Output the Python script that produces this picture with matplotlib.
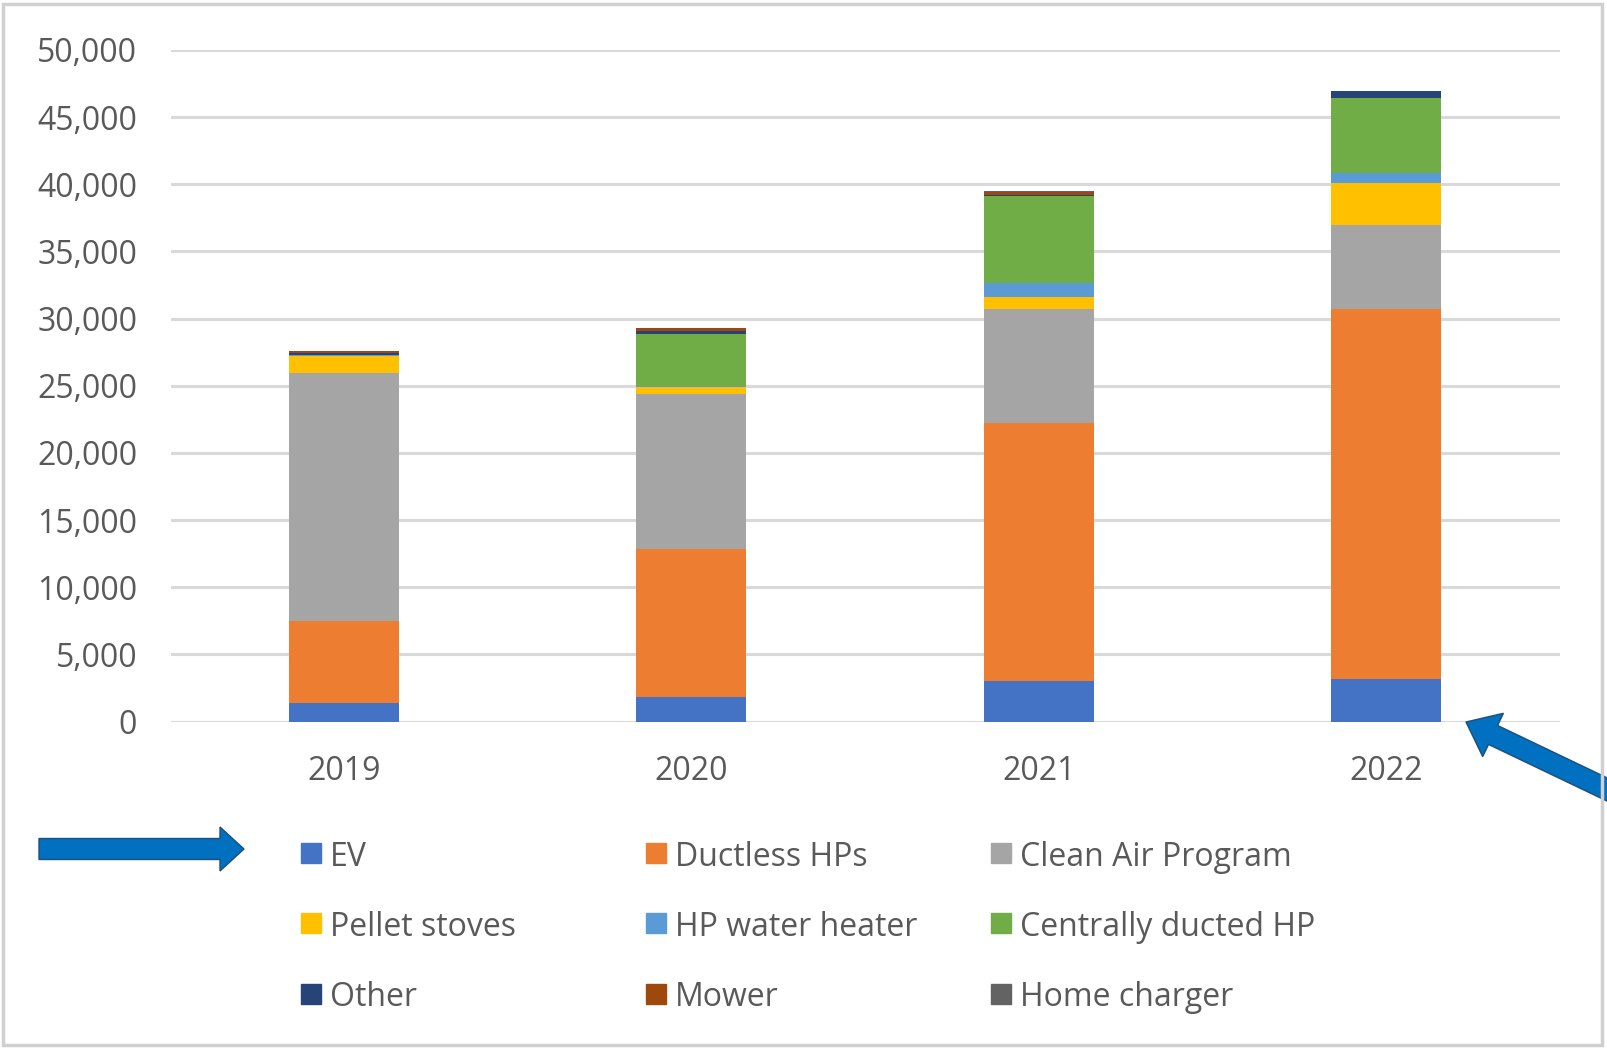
import matplotlib
matplotlib.use("Agg")
import matplotlib.pyplot as plt
from matplotlib.patches import FancyArrow, Rectangle
import numpy as np

plt.rcParams['font.family'] = ['Open Sans', 'DejaVu Sans']

years = ["2019", "2020", "2021", "2022"]
series_names = ["EV", "Ductless HPs", "Clean Air Program", "Pellet stoves",
                "HP water heater", "Centrally ducted HP", "Other", "Mower", "Home charger"]
ev = [1370, 1820, 3050, 3200]
ductless = [6100, 11000, 19150, 27490]
clean_air = [18450, 11570, 8480, 6280]
pellet = [1290, 480, 910, 3150]
hp_water = [50, 110, 1040, 745]
central = [50, 3850, 6500, 5540]
other = [150, 250, 110, 545]
mower = [150, 245, 220, 0]
home_charger = [0, 0, 50, 0]
y_ticks = [0, 5000, 10000, 15000, 20000, 25000, 30000, 35000, 40000, 45000, 50000]

colors = ["#4472C4", "#ED7D31", "#A5A5A5", "#FFC000", "#5B9BD5",
          "#70AD47", "#264478", "#9E480E", "#636363"]
data = [ev, ductless, clean_air, pellet, hp_water, central, other, mower, home_charger]

FS = 23
W, H = 1607, 1048
fig = plt.figure(figsize=(W / 100, H / 100), dpi=100)
ax = fig.add_axes([170.5 / W, 1 - 721.5 / H, (1559.5 - 170.5) / W, (721.5 - 50) / H])

x = np.arange(len(years))
bottom = np.zeros(len(years))
for vals, c, name in zip(data, colors, series_names):
    ax.bar(x, vals, width=0.317, bottom=bottom, color=c, label=name, zorder=3)
    bottom += np.array(vals)

ax.set_xlim(-0.5, len(years) - 0.5)
ax.set_ylim(0, 50000)
ax.set_yticks(y_ticks)
ax.set_yticklabels([f"{v:,}" for v in y_ticks])
ax.set_xticks(x)
ax.set_xticklabels(years)
ax.tick_params(axis='both', length=0, labelsize=FS, labelcolor="#595959")
ax.tick_params(axis='y', pad=24)
ax.tick_params(axis='x', pad=24)
ax.grid(axis='y', color="#D9D9D9", linewidth=2.2, zorder=0)
for s in ax.spines.values():
    s.set_visible(False)

# legend (3 columns, row-major)
col_x = [301, 646, 991]
row_y = [853, 923, 994]
for i, (name, c) in enumerate(zip(series_names, colors)):
    r, cidx = divmod(i, 3)
    px, py = col_x[cidx], row_y[r]
    fig.patches.append(Rectangle((px / W, 1 - (py + 10) / H), 20 / W, 20 / H,
                                 transform=fig.transFigure, color=c))
    fig.text((px + 29) / W, 1 - py / H, name, fontsize=FS, color="#595959",
             ha='left', va='center_baseline')

def inch(px, py):
    return px / 100, (H - py) / 100

# left arrow
x0, y0 = inch(39, 849)
fig.patches.append(FancyArrow(x0, y0, (244 - 39) / 100, 0, width=0.21, head_width=0.44,
                              head_length=0.24, length_includes_head=True,
                              transform=fig.dpi_scale_trans, facecolor="#0070C0",
                              edgecolor="#1F4E79", linewidth=1))
# right arrow
x1, y1 = inch(1650, 810)
x2, y2 = inch(1466, 722)
fig.patches.append(FancyArrow(x1, y1, x2 - x1, y2 - y1, width=0.21, head_width=0.48,
                              head_length=0.30, length_includes_head=True,
                              transform=fig.dpi_scale_trans, facecolor="#0070C0",
                              edgecolor="#1F4E79", linewidth=1))

# border
fig.patches.append(Rectangle((3 / W, 3 / H), (W - 8) / W, (H - 7) / H, fill=False,
                             edgecolor="#D0D0D0", linewidth=2.5, transform=fig.transFigure))

fig.savefig("out.png", dpi=100, facecolor="white")
